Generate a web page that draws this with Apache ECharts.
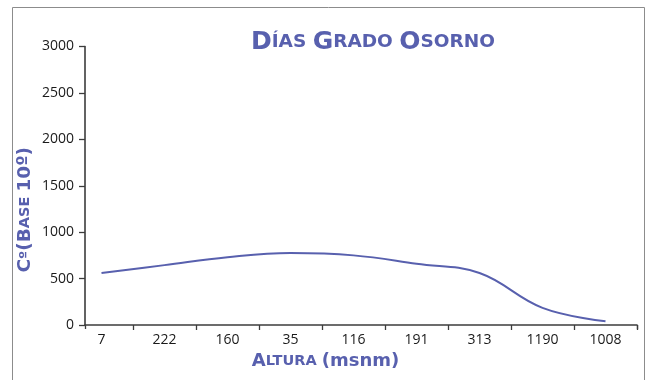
<!DOCTYPE html>
<html>
<head>
<meta charset="utf-8">
<script src="https://cdn.jsdelivr.net/npm/echarts@6/dist/echarts.min.js"></script>
<style>
  html, body { margin: 0; padding: 0; background: #fff; }
  #chart { width: 652px; height: 380px; }
</style>
</head>
<body>
<div id="chart"></div>
<script>
// Altitude stations (msnm) along the category axis
const categories = ['7', '222', '160', '35', '116', '191', '313', '1190', '1008'];
// Degree-days (base 10 ºC) for each station
const gradoDias = [560, 645, 730, 775, 750, 660, 560, 185, 40];
// Value axis range
const yMin = 0;
const yMax = 3000;
const yStep = 500;

const BLUE = '#5860ae';
const AXIS = '#3c3c3c';
const LABEL_FONT = '"Open Sans", sans-serif';
const HEAD_FONT = '"DejaVu Sans", sans-serif';

const chart = echarts.init(document.getElementById('chart'), null, { renderer: 'canvas' });

chart.setOption({
  backgroundColor: '#ffffff',
  animation: false,
  title: {
    text: '{b|D}{s|ÍAS }{b|G}{s|RADO }{b|O}{s|SORNO}',
    left: 368,
    top: 25,
    textAlign: 'center',
    textStyle: {
      rich: {
        b: { fontFamily: HEAD_FONT, fontWeight: 'bold', fontSize: 25, color: BLUE },
        s: { fontFamily: HEAD_FONT, fontWeight: 'bold', fontSize: 18.5, color: BLUE }
      }
    }
  },
  graphic: [{
    type: 'rect',
    shape: { x: 12.5, y: 7.5, width: 632, height: 400 },
    style: { fill: 'none', stroke: '#8c8c8c', lineWidth: 1 },
    silent: true
  }],
  grid: [
    { left: 70, right: 15, top: 46.5, bottom: 55 },
    { left: 85, right: 15, top: 46.5, bottom: 55 }
  ],
  xAxis: [{
    type: 'category',
    gridIndex: 0,
    data: categories,
    boundaryGap: true,
    axisLine: { show: false },
    axisTick: { show: true, length: 5, interval: (i) => i !== 0, lineStyle: { color: AXIS, width: 1.3 } },
    axisLabel: { color: '#1a1a1a', fontFamily: LABEL_FONT, fontSize: 14, margin: 8, interval: 0 },
    splitLine: { show: false },
    name: '{b|A}{s|LTURA }{b|(msnm)}',
    nameLocation: 'middle',
    nameGap: 27,
    nameTextStyle: {
      padding: [0, 56, 0, 0],
      rich: {
        b: { fontFamily: HEAD_FONT, fontWeight: 'bold', fontSize: 18, color: BLUE },
        s: { fontFamily: HEAD_FONT, fontWeight: 'bold', fontSize: 14.5, color: BLUE }
      }
    }
  }, {
    type: 'value',
    gridIndex: 1,
    min: 0,
    max: 1,
    interval: 1,
    axisLine: { show: true, lineStyle: { color: AXIS, width: 1.6 } },
    axisTick: { show: true, length: 4, lineStyle: { color: AXIS, width: 1.3 } },
    axisLabel: { show: false },
    splitLine: { show: false }
  }],
  yAxis: [{
    type: 'value',
    gridIndex: 0,
    min: yMin,
    max: yMax,
    interval: yStep,
    offset: -15,
    axisLine: { show: true, lineStyle: { color: AXIS, width: 1.6 } },
    axisTick: { show: true, length: 6, lineStyle: { color: AXIS, width: 1.3 } },
    axisLabel: {
      color: '#1a1a1a', fontFamily: LABEL_FONT, fontSize: 14, margin: 11,
      formatter: (v) => String(v)
    },
    splitLine: { show: false },
    name: '{b|C}{s|º}{b|(B}{s|ASE }{b|10º)}',
    nameLocation: 'middle',
    nameRotate: 90,
    nameGap: 50,
    nameMoveOverlap: false,
    nameTextStyle: {
      padding: [0, 48, 0, 0],
      rich: {
        b: { fontFamily: HEAD_FONT, fontWeight: 'bold', fontSize: 18.5, color: BLUE },
        s: { fontFamily: HEAD_FONT, fontWeight: 'bold', fontSize: 14.5, color: BLUE }
      }
    }
  }, {
    type: 'value',
    gridIndex: 1,
    show: false,
    min: yMin,
    max: yMax
  }],
  series: [{
    type: 'line',
    xAxisIndex: 0,
    yAxisIndex: 0,
    data: gradoDias,
    smooth: 0.4,
    showSymbol: false,
    lineStyle: { color: BLUE, width: 2 }
  }]
});
</script>
</body>
</html>
